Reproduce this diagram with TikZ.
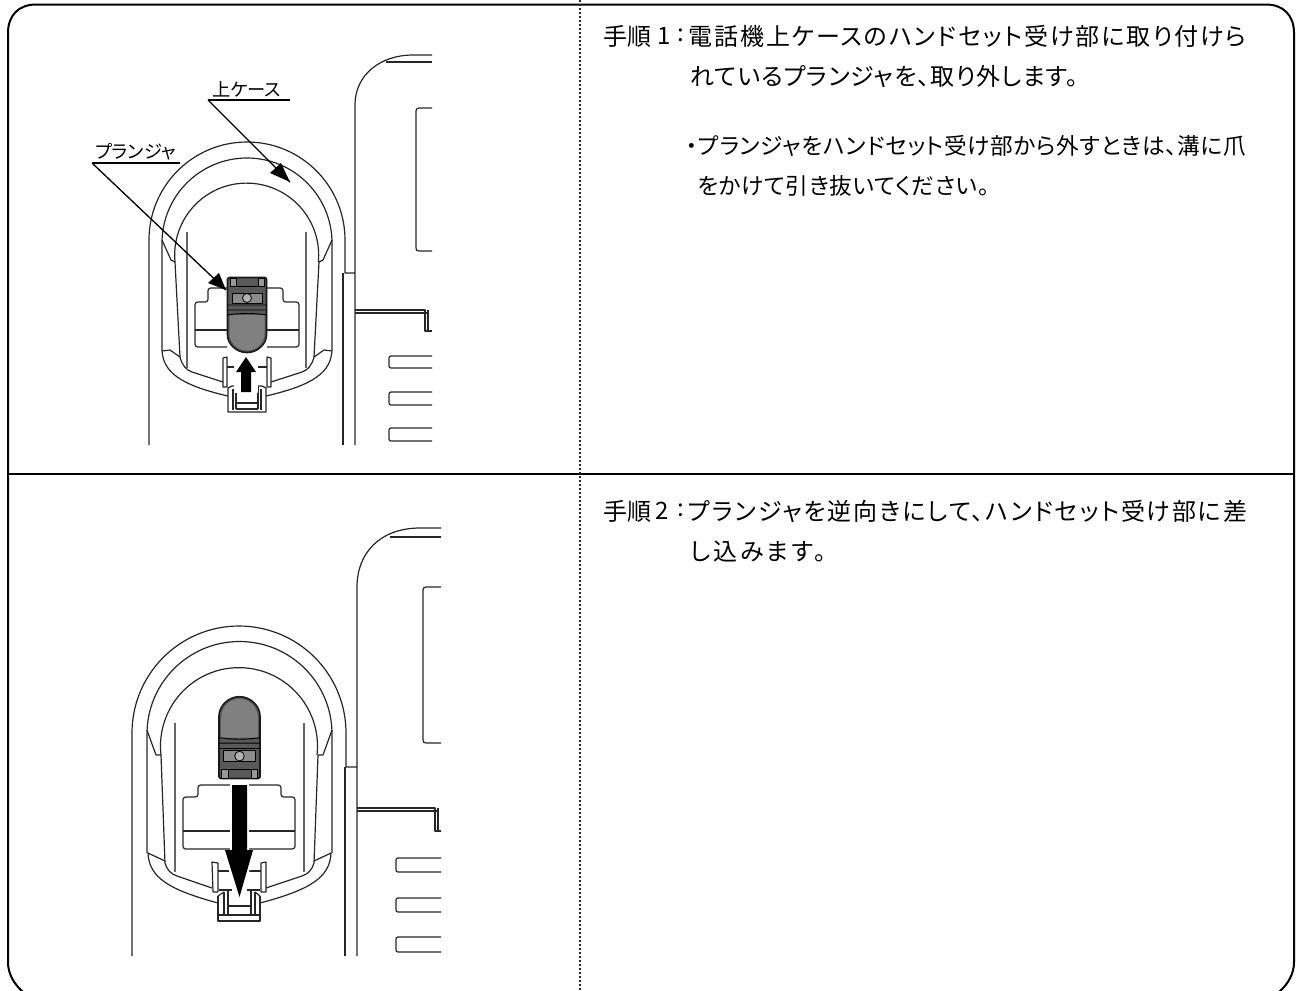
\documentclass[tikz,border=0pt]{standalone}
\usepackage{fontspec}
\setmainfont{Noto Sans CJK JP}[RawFeature=+palt]
\usetikzlibrary{arrows.meta}
\tikzset{
 x=0.75pt,y=-0.75pt,
 frameline/.style={draw=black,line width=1.5pt},
 divline/.style={draw=black!85,line width=0.9pt,dash pattern=on 1.4pt off 1.6pt},
 art/.style={draw=black!85,line width=0.9pt,line join=round},
 leader/.style={draw=black,line width=1pt},
 bigtext/.style={anchor=west,inner sep=0pt,font=\fontsize{18pt}{20pt}\selectfont},
 smalltext/.style={anchor=west,inner sep=0pt,font=\fontsize{17pt}{20pt}\selectfont\addfontfeature{LetterSpace=3}},
 labeltext/.style={anchor=base west,inner sep=0pt,font=\fontsize{13.7pt}{15pt}\selectfont},
}
\newcommand{\plungerbody}{%
 \fill[black!65] (-20,1) -- (20,1) -- (20,56) arc[start angle=0,end angle=180,radius=20] -- cycle;
 \fill[black!50] (-17.5,38) -- (17.5,38) -- (17.5,56) arc[start angle=0,end angle=180,radius=17.5] -- cycle;
 \draw[black!90,line width=1.2pt,rounded corners=1.5pt] (-19.5,0.5) -- (19.5,0.5) -- (19.5,56) arc[start angle=0,end angle=180,radius=19.5] -- cycle;
 \draw[black,line width=0.7pt] (-19.5,28) -- (19.5,28) (-19.5,33) -- (19.5,33) (-19.5,38) .. controls (-8,36) and (8,36) .. (19.5,38);
 \fill[black!45] (-15,16) rectangle (15,26);
 \draw[black,line width=0.6pt] (-15,16) rectangle (15,26);
 \draw[black,line width=0.6pt,fill=black!30] (0,21) circle[radius=4.5];
 \draw[black,line width=0.6pt,fill=black!40] (-17,1) rectangle (-11,9);
 \draw[black,line width=0.6pt,fill=black!40] (11,1) rectangle (17,9);
 \draw[black,line width=0.6pt] (-11,9) -- (11,9);
}
\begin{document}
\begin{tikzpicture}
\useasboundingbox (0,0) rectangle (1298,990);
% frame
\draw[frameline] (36,4.5) -- (1266,4.5) .. controls (1283,4.5) and (1294,15) .. (1294,33) -- (1294,962) .. controls (1294,974) and (1288,984) .. (1279,992);
\draw[frameline] (36,4.5) .. controls (19,4.5) and (8,15) .. (8,33) -- (8,962) .. controls (8,974) and (14,984) .. (23,992);
\draw[frameline] (8,474) -- (1294,474);
\draw[divline] (580,0) -- (580,990);

% ---------- top drawing
\draw[art] (149,445) -- (149,240) arc[start angle=180,end angle=360,radius=98] -- (345,273) -- (355,273);
\draw[art] (343,273) -- (343,445);
\draw[art] (355,445) -- (355,105) .. controls (355,75) and (380,55) .. (413,55) -- (432,55);
\draw[art] (386,62) -- (432,62);
\draw[art] (432,108) -- (419,108) .. controls (417,108) and (416,109) .. (416,111) -- (416,248) .. controls (416,250) and (417,251) .. (419,251) -- (432,251);
\draw[art] (355,310) -- (425,310) -- (425,331) -- (432,331) (355,313) -- (428,313) (428,310) -- (428,331);
\foreach \ya/\yb in {356/368,392/405,428/441}
 \draw[art] (432,\ya) -- (391,\ya) .. controls (389.5,\ya) and (389,\ya+1) .. (389,\ya+2) -- (389,\yb-2) .. controls (389,\yb-1) and (389.5,\yb) .. (391,\yb) -- (432,\yb);
\draw[art] (162,350) -- (162,243) arc[start angle=180,end angle=360,radius=85] -- (332,350);
\draw[art] (175,262) arc[start angle=174.5,end angle=365.5,radius=72];
\draw[art] (162,240) -- (171,260) -- (175,262) (332,240) -- (323,260) -- (319,262);
\draw[art] (175,262) -- (180,357) .. controls (182,365) and (186,370) .. (192,372) -- (223,382);
\draw[art] (319,262) -- (314,357) .. controls (312,365) and (308,370) .. (302,372) -- (271,382);
\draw[art] (162,350) .. controls (163,372) and (180,385) .. (228,396);
\draw[art] (332,350) .. controls (331,372) and (314,385) .. (266,396);
\draw[art] (162,351) -- (170,350) -- (180,357) (332,351) -- (324,350) -- (314,357);
\foreach \xa in {186.5,305.5}
 \draw[black!60,line width=1.5pt] (\xa,232) -- (\xa,368);
% plate
\draw[art,rounded corners=2pt] (227,347) -- (195,347) -- (195,302) -- (208,302) -- (208,288) -- (283,288) -- (283,302) -- (299,302) -- (299,347) -- (267,347);
\draw[art] (195,330) -- (227,330) (267,330) -- (299,330);
\begin{scope}[shift={(247,277)}]\plungerbody\end{scope}
% latch
\draw[art] (223,358) -- (227,357) -- (227,387) -- (223,387) -- cycle (271,358) -- (267,357) -- (267,387) -- (271,387) -- cycle;
\draw[art] (227,367) -- (240,367) (254,367) -- (267,367);
\draw[art] (240,386) -- (232,386) -- (228,388) -- (228,412) -- (266,412) -- (266,388) -- (262,386) -- (254,386);
\draw[art] (233,389) -- (233,410) (261,389) -- (261,410) (236,386) -- (236,409) (258,386) -- (258,409) (236,403) -- (258,403) (236,409) -- (258,409);
\fill[white] (234,355) rectangle (258,393);
\fill[black] (241,392) -- (251,392) -- (251,372) -- (256,372) -- (246,357) -- (236,372) -- (241,372) -- cycle;
% labels
\node[labeltext] (case1) at (212,96) {上ケース};
\coordinate (case1l) at (208,100);
\coordinate (case1r) at (290,100);
\coordinate (case1t) at (290,182);
\draw[leader] (case1l) -- (case1r);
\draw[leader] (case1l) -- (case1t);
\fill[black] (case1t) -- (270,173) -- (281,163) -- cycle;
\node[labeltext] (plg1) at (95,158) {プランジャ};
\coordinate (plg1l) at (92,163);
\coordinate (plg1r) at (180,163);
\coordinate (plg1t) at (226,290);
\draw[leader] (plg1l) -- (plg1r);
\draw[leader] (plg1l) -- (plg1t);
\fill[black] (plg1t) -- (208,283) -- (219,273) -- cycle;

% ---------- bottom drawing
\draw[art] (132,956) -- (132,733) arc[start angle=180,end angle=360,radius=107] -- (346,767) -- (357,767);
\draw[art] (345,767) -- (345,956);
\draw[art] (357,956) -- (357,587) .. controls (357,553) and (380,528) .. (420,528) -- (441,528);
\draw[art] (390,537) -- (441,537);
\draw[art] (441,587) -- (426,587) .. controls (424,587) and (423,588) .. (423,590) -- (423,740) .. controls (423,742) and (424,743) .. (426,743) -- (441,743);
\draw[art] (357,808) -- (435,808) -- (435,831) -- (441,831) (357,811) -- (438,811) (438,808) -- (438,831);
\foreach \ya/\yb in {858/872,898/912,937/952}
 \draw[art] (441,\ya) -- (398,\ya) .. controls (396.5,\ya) and (396,\ya+1) .. (396,\ya+2) -- (396,\yb-2) .. controls (396,\yb-1) and (396.5,\yb) .. (398,\yb) -- (441,\yb);
\draw[art] (147,853) -- (147,734) arc[start angle=180,end angle=360,radius=92.5] -- (332,853);
\draw[art] (161,755) arc[start angle=173.5,end angle=366.5,radius=78.5];
\draw[art] (147,730) -- (156,755) -- (161,755) (332,730) -- (323,755) -- (318,755);
\draw[art] (161,755) -- (165,863) .. controls (167,870) and (171,874) .. (177,876) -- (212,888);
\draw[art] (318,755) -- (314,863) .. controls (312,870) and (308,874) .. (302,876) -- (266,888);
\draw[art] (148,853) .. controls (149,878) and (170,890) .. (218,903);
\draw[art] (331,853) .. controls (330,878) and (309,890) .. (260,903);
\draw[art] (148,853) -- (165,861) (331,853) -- (314,861);
\foreach \xa in {174.5,304}
 \draw[black!60,line width=1.5pt] (\xa,723) -- (\xa,872);
% plate
\draw[art,rounded corners=2pt] (183,849) -- (183,797) -- (198,797) -- (198,785) -- (281,785) -- (281,797) -- (295,797) -- (295,849) -- cycle;
\draw[art] (183,831) -- (295,831);
\begin{scope}[shift={(239.5,779)},yscale=-1.09,xscale=1.05]\plungerbody\end{scope}
% latch
\draw[art] (212,862) -- (218,863) -- (218,892) -- (213,892) -- cycle (266,862) -- (261,863) -- (261,892) -- (266,892) -- cycle;
\draw[art] (218,871) -- (261,871);
\draw[art] (219,890) -- (232,890) (247,890) -- (260,890);
\draw[art] (218,896) -- (218,921) -- (260,921) -- (260,896) (224,892) -- (224,915) (255,892) -- (255,915) (228,890) -- (228,915) (251,890) -- (251,915) (228,906) -- (251,906) (218,915) -- (260,915);
\draw[art] (218,896) -- (224,892) (260,896) -- (255,892);
\fill[white] (230,782) rectangle (249,852);
\fill[white] (222,850) -- (256,850) -- (239.5,902) -- cycle;
\fill[black] (232,785) -- (247,785) -- (247,850) -- (253,850) -- (239.5,897) -- (225,850) -- (232,850) -- cycle;

% ---------- text
\node[bigtext] (t1n) at (603,36) {手順};
\node[bigtext] (t1m) at (657,36) {1};
\node[bigtext] (t1k) at (677,35) {:};
\node[bigtext] (t1a) at (688,36) {\addfontfeature{LetterSpace=8}電話機上ケースのハンドセット受け部に取り付けら};
\node[bigtext] (t1b) at (690,76) {\addfontfeature{LetterSpace=4}れているプランジャを、取り外します。};
\node[smalltext] (t1c) at (686,146) {・プランジャをハンドセット受け部から外すときは、溝に爪};
\node[smalltext] (t1d) at (697,186) {をかけて引き抜いてください。};
\node[bigtext] (t2n) at (603,511) {手順};
\node[bigtext] (t2m) at (655,511) {2};
\node[bigtext] (t2k) at (677,510) {:};
\node[bigtext] (t2a) at (688,511) {\addfontfeature{LetterSpace=8}プランジャを逆向きにして、ハンドセット受け部に差};
\node[bigtext] (t2b) at (690,552) {\addfontfeature{LetterSpace=12}し込みます。};
\end{tikzpicture}
\end{document}
